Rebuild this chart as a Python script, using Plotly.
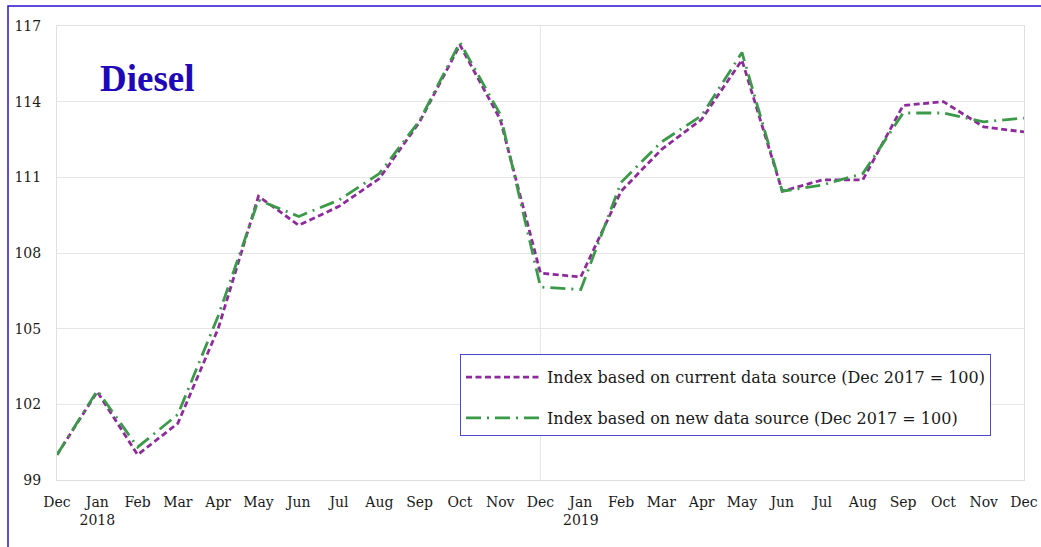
import plotly.graph_objects as go

months = ["Dec", "Jan", "Feb", "Mar", "Apr", "May", "Jun", "Jul", "Aug", "Sep", "Oct", "Nov",
          "Dec", "Jan", "Feb", "Mar", "Apr", "May", "Jun", "Jul", "Aug", "Sep", "Oct", "Nov", "Dec"]
tick_labels = ["Dec", "Jan<br>2018", "Feb", "Mar", "Apr", "May", "Jun", "Jul", "Aug", "Sep", "Oct", "Nov",
               "Dec", "Jan<br>2019", "Feb", "Mar", "Apr", "May", "Jun", "Jul", "Aug", "Sep", "Oct", "Nov", "Dec"]

current_source = [100.0, 102.5, 100.0, 101.25, 105.0, 110.25, 109.1, 109.85, 110.95, 113.2, 116.25, 113.3,
                  107.2, 107.05, 110.45, 112.1, 113.3, 115.65, 110.45, 110.9, 110.9, 113.85, 114.0, 113.0, 112.8]
new_source = [100.0, 102.55, 100.3, 101.6, 105.5, 110.1, 109.45, 110.1, 111.15, 113.25, 116.35, 113.5,
              106.65, 106.55, 110.8, 112.4, 113.45, 115.95, 110.45, 110.7, 111.15, 113.55, 113.55, 113.2, 113.35]
y_ticks = [99, 102, 105, 108, 111, 114, 117]

x = list(range(len(months)))

W, H = 1041, 547
ml, mr, mt, mb = 57, 17, 26, 67
pw, ph = W - ml - mr, H - mt - mb

fig = go.Figure()
fig.add_trace(go.Scatter(
    x=x, y=current_source, mode="lines", legendgroup="a",
    name="Index based on current data source (Dec 2017 = 100)",
    line=dict(color="#8e2a9c", width=2.8, dash="6px,3.5px"),
))
fig.add_trace(go.Scatter(
    x=x, y=new_source, mode="lines", legendgroup="b",
    name="Index based on new data source (Dec 2017 = 100)",
    line=dict(color="#3a9a48", width=2.8, dash="15px,6px,2px,6px"),
))

font_family = "DejaVu Serif, serif"

fig.update_layout(
    width=W, height=H,
    margin=dict(l=ml, r=mr, t=mt, b=mb, autoexpand=False),
    paper_bgcolor="white", plot_bgcolor="white",
    font=dict(family=font_family, size=14, color="#1a1a1a"),
    showlegend=True,
    legend=dict(
        x=(460 - ml) / pw, y=1 - (354 - mt) / ph, xanchor="left", yanchor="top",
        bordercolor="#4a4ad0", borderwidth=1, bgcolor="white",
        font=dict(family=font_family, size=16, color="#1a1a1a"),
        itemwidth=76, traceorder="grouped", tracegroupgap=17,
        title=dict(text=" ", font=dict(size=4)),
    ),
    xaxis=dict(
        range=[0, 24], tickmode="array", tickvals=x, ticktext=tick_labels,
        showgrid=False, zeroline=False, showline=True, linecolor="#e0e0e0", linewidth=1, mirror=True,
        ticks="", tickfont=dict(size=14), ticklabelstandoff=9, automargin=False,
    ),
    yaxis=dict(
        range=[99, 117], tickmode="array", tickvals=y_ticks,
        showgrid=True, gridcolor="#e6e6e6", zeroline=False,
        showline=True, linecolor="#e0e0e0", linewidth=1, mirror=True,
        ticks="", tickfont=dict(size=14), ticklabelstandoff=12, automargin=False,
    ),
    shapes=[
        dict(type="line", xref="x", yref="paper", x0=12, x1=12, y0=0, y1=1,
             line=dict(color="#e6e6e6", width=1), layer="below"),
        dict(type="rect", xref="paper", yref="paper",
             x0=(8 - ml) / pw, x1=(W + 20 - ml) / pw,
             y0=-(H + 20 - (mt + ph)) / ph, y1=1 + (mt - 6) / ph,
             line=dict(color="#2a10d0", width=1.5)),
    ],
    annotations=[
        dict(text="<b>Diesel</b>", xref="paper", yref="paper",
             x=(98 - ml) / pw, y=1 - (78 - mt) / ph, xanchor="left", yanchor="middle",
             showarrow=False,
             font=dict(family="Liberation Serif, serif", size=37, color="#2008b8")),
    ],
)

fig.write_html(
    "out.html",
    config={"displayModeBar": False},
    post_script="document.body.style.margin='0';document.body.style.overflow='hidden';",
)
